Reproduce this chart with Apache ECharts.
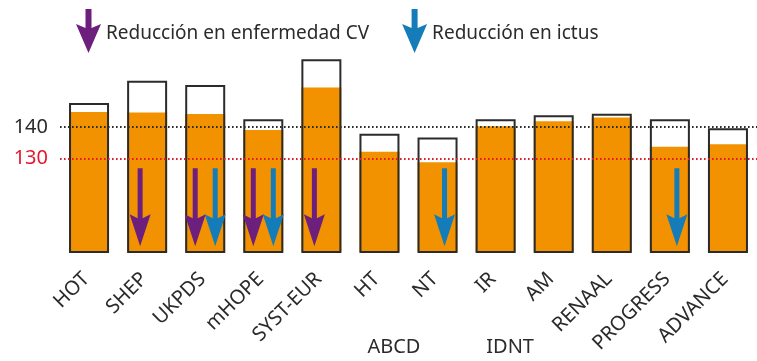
<!DOCTYPE html>
<html>
<head>
<meta charset="utf-8">
<script src="https://cdn.jsdelivr.net/npm/echarts@6/dist/echarts.min.js"></script>
<style>
html,body{margin:0;padding:0;background:#fff;}
#c{width:757px;height:361px;}
</style>
</head>
<body>
<div id="c"></div>
<script>
// ---- data ----
const categories = ['HOT','SHEP','UKPDS','mHOPE','SYST-EUR','HT','NT','IR','AM','RENAAL','PROGRESS','ADVANCE'];
const baselineBP = [147.7,154.8,153.5,142.5,161.7,137.9,136.7,142.5,143.8,144.3,142.5,139.6];
const achievedBP = [144.8,144.7,144.2,139.1,152.7,132.1,128.7,140.3,141.9,143.1,133.7,134.5];
const groupLabels = ['','','','','','ABCD','','IDNT','','','',''];
const cvReduction = ['SHEP','UKPDS','mHOPE','SYST-EUR'];
const strokeReduction = ['UKPDS','mHOPE','NT','PROGRESS'];
const refLines = [140, 130];
const legendNames = ['Reducción en enfermedad CV','Reducción en ictus'];

// ---- styling ----
const FONT = 'Noto Sans';
const ORANGE = '#F39200', PURPLE = '#6D1F7D', BLUE = '#147DB9', RED = '#E3192F', INK = '#2b2b2b';
const arrowLevel = 114.3;
const barArrow = 'path://M8,0 L13,0 L13,50 L21,46 L10.5,78 L0,46 L8,50 Z';
const legendArrow = 'path://M9.5,0 L15.5,0 L15.5,19 L25,15 L12.5,44 L0,15 L9.5,19 Z';
const refColors = {140: INK, 130: RED};

function arrowData(list, other, sign) {
  return list.map(c => ({
    value: [c, arrowLevel],
    symbolOffset: [sign * (other.includes(c) ? 10 : 7), 0]
  }));
}

const chart = echarts.init(document.getElementById('c'), null, {renderer: 'canvas'});
chart.setOption({
  animation: false,
  textStyle: {fontFamily: FONT},
  grid: {left: 60, width: 698, top: 49, height: 203, containLabel: false},
  legend: {
    left: 76, top: 9, padding: 0, itemGap: 33, itemWidth: 25, itemHeight: 44,
    formatter: n => '{t|' + n + '}',
    textStyle: {
      fontSize: 19, color: INK, fontFamily: FONT,
      rich: {t: {fontSize: 19, color: INK, fontFamily: FONT, padding: [6, 0, 0, 0]}}
    },
    data: legendNames.map(n => ({name: n, icon: legendArrow, itemStyle: {opacity: 1}})),
    selectedMode: false
  },
  xAxis: [{
    type: 'category', data: categories,
    axisLine: {show: false}, axisTick: {show: false},
    axisLabel: {rotate: 45, margin: 21, interval: 0, fontSize: 20, color: INK, fontFamily: FONT,
      padding: [0, 4, 8, 0]}
  }, {
    type: 'category', data: categories, position: 'bottom',
    axisLine: {show: false}, axisTick: {show: false},
    axisLabel: {
      interval: 0, margin: 85, fontSize: 20, color: INK, fontFamily: FONT,
      padding: [0, 0, 0, 29],
      formatter: (v, i) => groupLabels[i]
    }
  }],
  yAxis: {
    type: 'value', min: 100, max: 165, interval: 10,
    axisLine: {show: false}, axisTick: {show: false}, splitLine: {show: false},
    axisLabel: {
      margin: 12, fontSize: 20, fontFamily: FONT,
      formatter: v => refLines.includes(v) ? String(v) : '',
      color: v => refColors[v] || INK
    }
  },
  series: [{
    type: 'bar', name: 'achieved', data: achievedBP, barWidth: 40,
    itemStyle: {color: ORANGE}, silent: true
  }, {
    type: 'bar', name: 'baseline', data: baselineBP, barWidth: 40, barGap: '-100%',
    itemStyle: {color: 'rgba(0,0,0,0)', borderColor: INK, borderWidth: 2},
    silent: true,
    markLine: {
      silent: true, symbol: 'none', label: {show: false},
      data: refLines.map(v => ({yAxis: v, lineStyle: {color: refColors[v], type: [1.6, 2.4], width: 1.8}}))
    }
  }, {
    type: 'scatter', name: legendNames[0], symbol: barArrow, symbolSize: [21, 78],
    itemStyle: {color: PURPLE, opacity: 1}, data: arrowData(cvReduction, strokeReduction, -1), z: 5, silent: true
  }, {
    type: 'scatter', name: legendNames[1], symbol: barArrow, symbolSize: [21, 78],
    itemStyle: {color: BLUE, opacity: 1}, data: arrowData(strokeReduction, cvReduction, 1), z: 5, silent: true
  }]
});
</script>
</body>
</html>
